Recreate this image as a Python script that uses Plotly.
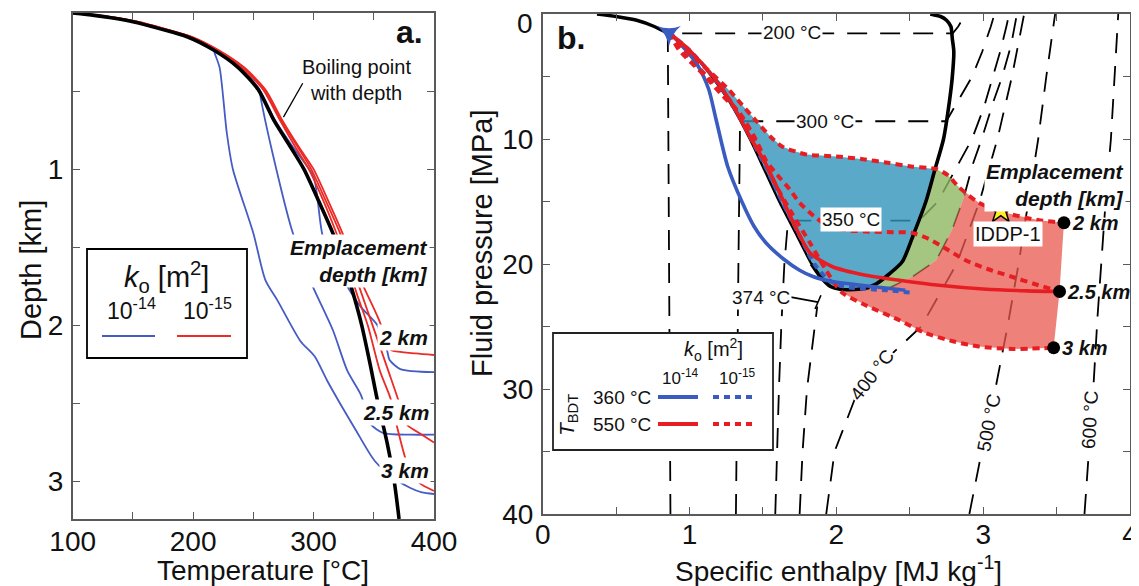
import numpy as np
import plotly.graph_objects as go

# page is rendered with an 8 px body margin; the figure is placed so that
# pixel positions match the 1139 x 586 window
OFF = 8
W, H = 1139 - OFF, 586 - OFF
FONT = "Liberation Sans, Arial, Helvetica, sans-serif"

# ================= Panel a data (Temperature [°C] vs depth [km]) =================
bp_depth = [0, 0.015, 0.03, 0.056, 0.1, 0.152, 0.237, 0.346, 0.49, 0.686, 0.86, 1.0, 1.2, 1.41, 1.6, 1.8, 2.0, 2.25, 2.48, 2.75, 3.0, 3.24]
bp_temp = [100, 118, 132, 150, 172, 195, 217, 237, 254, 267, 281, 292, 304, 316, 325, 333, 340, 347, 353, 361, 367, 371]

# k = 1e-14 (blue), emplacement 2, 2.5, 3 km
a_blue2_d = [0, 0.03, 0.056, 0.1, 0.152, 0.237, 0.346, 0.49, 0.686, 0.86, 1.05, 1.44, 1.75, 1.88, 2.0, 2.12, 2.16, 2.22, 2.28, 2.30]
a_blue2_T = [100, 132, 150, 172, 195, 217, 238, 255, 268, 283, 300, 308, 328, 339, 353, 358, 361, 363, 372, 400]
a_blue25_d = [0, 0.03, 0.056, 0.1, 0.152, 0.237, 0.346, 0.49, 0.54, 0.9, 1.39, 1.71, 2.03, 2.29, 2.44, 2.55, 2.63, 2.69, 2.70, 2.70]
a_blue25_T = [100, 132, 150, 172, 195, 217, 238, 255, 256, 266, 282, 297, 316, 328, 339, 344, 347, 358, 380, 400]
a_blue3_d = [0, 0.03, 0.056, 0.1, 0.152, 0.237, 0.26, 0.35, 0.77, 1.0, 1.41, 1.71, 1.84, 2.10, 2.2, 2.35, 2.5, 2.67, 2.87, 2.99, 3.04, 3.07, 3.08]
a_blue3_T = [100, 132, 150, 172, 195, 217, 218, 222, 228, 233, 250, 260, 270, 289, 301, 311, 322, 335, 351, 369, 380, 390, 400]
# k = 1e-15 (red)
a_red2_d = [0, 0.015, 0.03, 0.056, 0.1, 0.152, 0.237, 0.346, 0.49, 0.686, 0.86, 1.0, 1.2, 1.41, 1.6, 1.76, 2.0, 2.12, 2.16, 2.18, 2.19]
a_red2_T = [100, 121, 136, 154, 176, 199, 221, 242, 260, 274, 288, 300, 312, 324, 333, 342, 356, 358, 365, 385, 400]
a_red25_d = [0, 0.015, 0.03, 0.056, 0.1, 0.152, 0.237, 0.346, 0.49, 0.686, 0.86, 1.0, 1.2, 1.41, 1.6, 1.8, 2.0, 2.29, 2.47, 2.6, 2.64, 2.70, 2.75]
a_red25_T = [100, 121, 135, 153, 175, 198, 220, 241, 259, 273, 287, 298, 310, 322, 331, 340, 349, 362, 370, 375, 378, 390, 400]
a_red3_d = [0, 0.015, 0.03, 0.056, 0.1, 0.152, 0.237, 0.346, 0.49, 0.686, 0.86, 1.0, 1.2, 1.41, 1.6, 1.8, 2.0, 2.29, 2.47, 2.64, 2.87, 2.95, 3.01, 3.06]
a_red3_T = [100, 120, 135, 153, 175, 198, 220, 240, 258, 272, 285, 296, 308, 319, 328, 336, 345, 355, 364, 369, 377, 382, 388, 400]

a_xticks = [100, 150, 200, 250, 300, 350, 400]
a_xlabels = ["100", "", "200", "", "300", "", "400"]
a_yticks = [0, 0.5, 1, 1.5, 2, 2.5, 3]
a_ylabels = ["", "", "1", "", "2", "", "3"]

# ================= Panel b data (specific enthalpy [MJ/kg] vs fluid pressure [MPa]) =================
sat_liq_h = [0.37, 0.50, 0.64, 0.76, 0.85, 0.91, 1.01, 1.15, 1.27, 1.41, 1.51, 1.61, 1.72, 1.83, 1.89, 1.96, 2.04]
sat_liq_P = [0.0, 0.2, 0.5, 1.0, 1.55, 2.0, 3.0, 5.0, 7.0, 10.0, 12.5, 15.0, 17.5, 20.0, 21.0, 21.8, 22.06]
sat_vap_h = [2.04, 2.17, 2.27, 2.36, 2.45, 2.53, 2.61, 2.67, 2.73, 2.77, 2.79, 2.80, 2.79, 2.78, 2.75, 2.71, 2.675, 2.64]
sat_vap_P = [22.06, 22.0, 21.6, 20.8, 19.8, 17.5, 15.0, 12.5, 10.0, 7.0, 5.0, 3.0, 2.0, 1.0, 0.5, 0.2, 0.1, 0.0]

# isotherms (liquid branch, two-phase, vapour branch)
iso200_h = [0.870, 0.866, 0.862, 0.858, 0.855, 0.852, 2.793, 2.83, 2.855, 2.875, 2.88]
iso200_P = [40, 30, 20, 10, 5, 1.55, 1.55, 1.0, 0.5, 0.1, 0.0]
iso300_h = [1.316, 1.322, 1.327, 1.333, 1.338, 1.343, 1.344, 2.749, 2.925, 2.994, 3.024, 3.052, 3.077]
iso300_P = [40, 30, 25, 20, 15, 10, 8.58, 8.58, 5, 3, 2, 1, 0]
iso350_h = [1.584, 1.595, 1.609, 1.625, 1.646, 1.671, 2.564, 2.692, 2.81, 2.924, 3.004, 3.069, 3.116, 3.158, 3.177]
iso350_P = [40, 35, 30, 25, 20, 16.53, 16.53, 15, 12.5, 10, 7.5, 5, 3, 1, 0]
iso374_liq_h = [1.75, 1.77, 1.80, 1.84, 1.87]
iso374_liq_P = [40, 35, 30, 26, 23.4]
iso374_vap_h = [2.09, 2.2, 2.36, 2.52, 2.68, 2.79, 2.87, 2.93, 2.99, 3.07, 3.13, 3.19, 3.23]
iso374_vap_P = [22.06, 22.03, 21.9, 21.0, 19.7, 17.2, 14.6, 12.0, 10.0, 7.0, 5.0, 2.5, 0.0]
iso400_h = [1.931, 1.988, 2.152, 2.35, 2.578, 2.819, 2.975, 3.097, 3.196, 3.279]
iso400_P = [40, 35, 30, 27.5, 25, 20, 15, 10, 5, 0]
iso500_h = [2.906, 2.99, 3.083, 3.166, 3.241, 3.31, 3.375, 3.43, 3.479, 3.49]
iso500_P = [40, 35, 30, 25, 20, 15, 10, 5, 1, 0]
iso600_h = [3.69, 3.72, 3.75, 3.78, 3.81, 3.84, 3.87, 3.90, 3.92]
iso600_P = [40, 35, 30, 24, 19, 14, 10, 4, 0]

# model trajectories
b_blue_solid_h = [0.86, 0.93, 1.05, 1.13, 1.18, 1.26, 1.36, 1.44, 1.52, 1.64, 1.75, 1.84, 1.97, 2.17, 2.32, 2.47]
b_blue_solid_P = [1.5, 2.3, 4.0, 6.0, 8.4, 12.2, 15.1, 17.0, 18.3, 19.6, 20.5, 21.0, 21.4, 21.7, 21.9, 22.1]
b_blue_dot_h = [0.86, 1.0, 1.16, 1.28, 1.42, 1.53, 1.63, 1.74, 1.85, 1.95, 2.05, 2.2, 2.35, 2.51]
b_blue_dot_P = [1.5, 2.9, 5.0, 7.0, 10.0, 12.5, 15.0, 17.5, 20.0, 21.3, 21.8, 22.0, 22.1, 22.3]
b_red_solid_h = [0.86, 1.0, 1.16, 1.28, 1.42, 1.52, 1.61, 1.72, 1.82, 1.97, 2.2, 2.43, 2.7, 3.0, 3.3, 3.52]
b_red_solid_P = [1.5, 2.9, 5.0, 7.0, 10.0, 12.0, 14.2, 17.0, 19.1, 20.2, 20.9, 21.3, 21.7, 22.0, 22.15, 22.2]
b_red_dot2_h = [0.86, 0.95, 1.1, 1.27, 1.36, 1.45, 1.55, 1.63, 1.72, 1.8, 2.0, 2.17, 2.35, 2.51, 2.68, 2.76, 2.83, 2.97, 3.15, 3.38, 3.55]
b_red_dot2_P = [1.5, 2.6, 4.2, 6.1, 7.3, 8.5, 9.8, 10.6, 11.0, 11.25, 11.4, 11.6, 11.9, 12.2, 12.4, 12.9, 13.8, 15.1, 15.9, 16.5, 16.7]
b_red_dot25_h = [0.86, 0.93, 1.1, 1.23, 1.34, 1.45, 1.52, 1.6, 1.68, 1.75, 1.85, 1.95, 2.07, 2.2, 2.35, 2.51, 2.63, 2.75, 2.88, 3.03, 3.19, 3.35, 3.52]
b_red_dot25_P = [1.5, 2.9, 4.9, 6.6, 7.9, 10.0, 11.7, 12.9, 14.0, 15.1, 16.2, 17.0, 17.3, 17.4, 17.45, 17.5, 18.0, 18.8, 19.7, 20.4, 21.0, 21.6, 22.2]
b_red_dot3_h = [0.86, 0.93, 1.08, 1.2, 1.34, 1.45, 1.57, 1.7, 1.82, 1.93, 2.04, 2.2, 2.43, 2.6, 2.8, 2.97, 3.2, 3.48]
b_red_dot3_P = [1.5, 2.6, 4.5, 6.0, 8.0, 10.2, 13.3, 16.0, 18.3, 20.5, 22.3, 23.3, 24.5, 25.5, 26.2, 26.6, 26.8, 26.7]

start_h, start_P = [0.86], [1.5]
iddp_h, iddp_P = [3.12], [15.7]
emplacement_labels = ["2 km", "2.5 km", "3 km"]

b_xticks = [0, 0.5, 1, 1.5, 2, 2.5, 3, 3.5, 4]
b_xlabels = ["0", "", "1", "", "2", "", "3", "", "4"]
b_yticks = [0, 5, 10, 15, 20, 25, 30, 35, 40]
b_ylabels = ["", "", "10", "", "20", "", "30", "", "40"]
b_top_label = "0"   # label of the 0 MPa tick, set slightly below the frame as in the original

iso_label_text = ["200 °C", "300 °C", "350 °C", "374 °C", "400 °C", "500 °C", "600 °C"]
iso_label_h = [1.70, 1.92, 2.10, 1.49, 2.24, 3.04, 3.725]
iso_label_P = [1.45, 8.58, 16.45, 22.7, 28.9, 32.7, 32.5]
iso_label_angle = [0, 0, 0, 0, -52, -79, -87]

# ================= colours =================
BLUE_A = "rgb(70,92,196)"
RED_A = "rgb(236,42,38)"
BLUE_B = "rgb(58,92,192)"
RED_B = "rgb(230,30,36)"
FILL_BLUE = "rgba(50,148,188,0.8)"
FILL_GREEN = "rgba(143,184,96,0.8)"
FILL_PINK = "rgba(232,88,78,0.75)"
AXC = "#5a5a5a"

fig = go.Figure()


def line_a(T, d, color, width):
    fig.add_trace(go.Scatter(x=T, y=d, mode="lines",
                             line=dict(color=color, width=width, shape="spline", smoothing=0.7),
                             xaxis="x", yaxis="y", showlegend=False, hoverinfo="skip"))


def line_b(h, P, color, width, dash="solid", smooth=True):
    ln = dict(color=color, width=width, dash=dash)
    if smooth:
        ln.update(shape="spline", smoothing=0.7)
    fig.add_trace(go.Scatter(x=h, y=P, mode="lines", line=ln,
                             xaxis="x2", yaxis="y2", showlegend=False, hoverinfo="skip"))


def fill_b(h, P, color):
    fig.add_trace(go.Scatter(x=h, y=P, mode="lines", fill="toself", fillcolor=color,
                             line=dict(width=0, color=color), xaxis="x2", yaxis="y2",
                             showlegend=False, hoverinfo="skip"))


# ---------- panel a traces ----------
for d, T in [(a_blue2_d, a_blue2_T), (a_blue25_d, a_blue25_T), (a_blue3_d, a_blue3_T)]:
    line_a(T, d, BLUE_A, 1.8)
for d, T in [(a_red2_d, a_red2_T), (a_red25_d, a_red25_T), (a_red3_d, a_red3_T)]:
    line_a(T, d, RED_A, 1.8)
line_a(bp_temp, bp_depth, "black", 3.6)

# ---------- panel b : isotherms ----------
ISO_DASH = "20px,13px"
for h, P in [(iso200_h, iso200_P), (iso300_h, iso300_P), (iso350_h, iso350_P),
             (iso374_liq_h, iso374_liq_P), (iso374_vap_h, iso374_vap_P),
             (iso400_h, iso400_P), (iso500_h, iso500_P), (iso600_h, iso600_P)]:
    line_b(h, P, "black", 1.8, ISO_DASH, smooth=False)

# ---------- panel b : filled regions built from the curves ----------
th, tP = np.array(b_red_dot2_h), np.array(b_red_dot2_P)
lh, lP = np.array(sat_liq_h), np.array(sat_liq_P)
vh, vP = np.array(sat_vap_h), np.array(sat_vap_P)
ch, cP = np.array(iso374_vap_h), np.array(iso374_vap_P)
bh, bP = np.array(b_red_dot3_h), np.array(b_red_dot3_P)


def P_top(h):
    return np.interp(h, th, tP)


Pg = np.linspace(8.0, 22.0, 4000)
hvg = np.interp(Pg, vP[::-1], vh[::-1])
f = P_top(hvg) - Pg
i = np.where(np.diff(np.sign(f)) != 0)[0][0]
P_iv, h_iv = Pg[i], hvg[i]

hg = np.linspace(2.7, 3.2, 4000)
f2 = P_top(hg) - np.interp(hg, ch, cP)
j = np.where(np.diff(np.sign(f2)) != 0)[0][0]
h_ic, P_ic = hg[j], P_top(hg[j])

# blue: inside dome below the upper trajectory
m = th < h_iv
vasc_h, vasc_P = vh[::-1], vP[::-1]
mv = vasc_P > P_iv
ml = lP[::-1] >= 1.5
blue_poly_h = np.concatenate([th[m], [h_iv], vasc_h[mv], lh[::-1][ml]])
blue_poly_P = np.concatenate([tP[m], [P_iv], vasc_P[mv], lP[::-1][ml]])
fill_b(blue_poly_h, blue_poly_P, FILL_BLUE)

# green: between saturated vapour and 374 °C isotherm
m = (th > h_iv) & (th < h_ic)
mc = cP > P_ic
mv2 = vP > P_iv
green_h = np.concatenate([[h_iv], th[m], [h_ic], ch[mc][::-1], vh[mv2]])
green_P = np.concatenate([[P_iv], tP[m], [P_ic], cP[mc][::-1], vP[mv2]])
fill_b(green_h, green_P, FILL_GREEN)

# pink: supercritical region bounded by the trajectories
m = th > h_ic
mb = bh >= 2.04
pink_h = np.concatenate([[h_ic], th[m], [b_red_dot25_h[-1]], bh[mb][::-1], ch[mc]])
pink_P = np.concatenate([[P_ic], tP[m], [b_red_dot25_P[-1]], bP[mb][::-1], cP[mc]])
fill_b(pink_h, pink_P, FILL_PINK)

# ---------- panel b : saturation dome ----------
line_b(sat_liq_h[:5], sat_liq_P[:5], "black", 3.4)
line_b(sat_liq_h[4:], sat_liq_P[4:], "black", 2.2)
line_b(sat_liq_h[-4:] + sat_vap_h, sat_liq_P[-4:] + sat_vap_P, "black", 3.6)

# ---------- panel b : trajectories ----------
RDOT = "7px,5px"
line_b(b_red_dot3_h, b_red_dot3_P, RED_B, 4, RDOT)
line_b(b_blue_dot_h, b_blue_dot_P, BLUE_B, 4, "6px,5px")
line_b(b_blue_solid_h, b_blue_solid_P, BLUE_B, 3.6)
line_b(b_red_solid_h, b_red_solid_P, RED_B, 3.6)
line_b(b_red_dot25_h, b_red_dot25_P, RED_B, 4, RDOT)
line_b(b_red_dot2_h, b_red_dot2_P, RED_B, 4, RDOT)

# emplacement end points
end_h = [b_red_dot2_h[-1], b_red_dot25_h[-1], b_red_dot3_h[-1]]
end_P = [b_red_dot2_P[-1], b_red_dot25_P[-1], b_red_dot3_P[-1]]
fig.add_trace(go.Scatter(x=end_h, y=end_P, mode="markers", marker=dict(color="black", size=13),
                         xaxis="x2", yaxis="y2", showlegend=False, hoverinfo="skip"))
fig.add_trace(go.Scatter(x=start_h, y=start_P, mode="markers",
                         marker=dict(symbol="star-triangle-down", color=BLUE_B, size=17),
                         xaxis="x2", yaxis="y2", showlegend=False, hoverinfo="skip"))
fig.add_trace(go.Scatter(x=iddp_h, y=iddp_P, mode="markers",
                         marker=dict(symbol="star", color="#ffee22", size=20, line=dict(color="black", width=1.5)),
                         xaxis="x2", yaxis="y2", showlegend=False, hoverinfo="skip"))


def px2x(px):
    return (px - OFF) / W


def py2y(py):
    return 1 - (py - OFF) / H


ann = []
shapes = []


def A(text, x, y, size, xref="paper", yref="paper", xanchor="center", yanchor="middle",
      angle=0, bg=None, align="center", color="#111", yshift=0):
    d = dict(text=text, x=x, y=y, xref=xref, yref=yref, xanchor=xanchor, yanchor=yanchor,
             showarrow=False, textangle=angle, align=align, yshift=yshift,
             font=dict(family=FONT, size=size, color=color))
    if bg:
        d["bgcolor"] = bg
        d["borderpad"] = 1
    ann.append(d)


# ---------- panel a annotations ----------
A("<b>a.</b>", 380, 0.12, 32, "x", "y")
A("Boiling point<br>with depth", 336, 0.43, 20, "x", "y")
shapes.append(dict(type="line", xref="x", yref="y", x0=291, y0=0.45, x1=275, y1=0.667,
                   line=dict(color="black", width=1.3)))
A("<b><i>Emplacement<br>depth [km]</i></b>", 396.5, 1.59, 21, "x", "y", xanchor="right", align="right", bg="white")
A("<b><i>2 km</i></b>", 396.5, 2.08, 21, "x", "y", xanchor="right", bg="white")
A("<b><i>2.5 km</i></b>", 397.5, 2.56, 21, "x", "y", xanchor="right", bg="white")
A("<b><i>3 km</i></b>", 397.5, 2.93, 21, "x", "y", xanchor="right", bg="white")

# panel a legend
shapes.append(dict(type="rect", xref="paper", yref="paper", x0=px2x(87), y0=py2y(358), x1=px2x(247), y1=py2y(249),
                   line=dict(color="black", width=1.8), fillcolor="white", layer="above"))
shapes.append(dict(type="line", xref="paper", yref="paper", x0=px2x(102), y0=py2y(336), x1=px2x(155), y1=py2y(336),
                   line=dict(color=BLUE_A, width=2.2), layer="above"))
shapes.append(dict(type="line", xref="paper", yref="paper", x0=px2x(177), y0=py2y(336), x1=px2x(231), y1=py2y(336),
                   line=dict(color=RED_A, width=2.2), layer="above"))
A("<i>k</i><sub>o</sub> [m<sup>2</sup>]", px2x(166), py2y(277), 29)
A("10<sup>-14</sup>", px2x(131), py2y(309), 23)
A("10<sup>-15</sup>", px2x(207), py2y(309), 23)

# ---------- panel b annotations ----------
A("<b>b.</b>", 0.19, 1.9, 32, "x2", "y2")
A(b_top_label, px2x(535), 0, 28, yref="y2", xanchor="right", yshift=-9)
for t, hx, py, ang in zip(iso_label_text, iso_label_h, iso_label_P, iso_label_angle):
    A(t, hx, py, 19, "x2", "y2", angle=ang, bg="white")
shapes.append(dict(type="line", xref="x2", yref="y2", x0=1.69, y0=22.65, x1=1.875, y1=23.05,
                   line=dict(color="black", width=1.6)))
shapes.append(dict(type="line", xref="x2", yref="y2", x0=1.855, y0=23.6, x1=1.895, y1=22.5,
                   line=dict(color="black", width=1.6)))
A("<b><i>Emplacement<br>depth [km]</i></b>", 3.975, 13.7, 21, "x2", "y2", xanchor="right", align="right", bg="white")
A("IDDP-1", 3.17, 17.6, 20, "x2", "y2", bg="white")
for t, hx, py in zip(emplacement_labels, end_h, end_P):
    A("<b><i>" + t + "</i></b>", hx + 0.04, py, 20, "x2", "y2", xanchor="left")

# panel b legend
shapes.append(dict(type="rect", xref="paper", yref="paper", x0=px2x(553), y0=py2y(450), x1=px2x(773), y1=py2y(333),
                   line=dict(color="#222", width=1.8), fillcolor="white", layer="above"))
for yy, col in [(397, BLUE_B), (424, RED_B)]:
    shapes.append(dict(type="line", xref="paper", yref="paper", x0=px2x(658), y0=py2y(yy), x1=px2x(698), y1=py2y(yy),
                       line=dict(color=col, width=4), layer="above"))
    shapes.append(dict(type="line", xref="paper", yref="paper", x0=px2x(713), y0=py2y(yy), x1=px2x(755), y1=py2y(yy),
                       line=dict(color=col, width=4, dash="6px,5px"), layer="above"))
A("<i>k</i><sub>o</sub> [m<sup>2</sup>]", px2x(713), py2y(349), 20)
A("10<sup>-14</sup>", px2x(680), py2y(377), 17)
A("10<sup>-15</sup>", px2x(737), py2y(377), 17)
A("360 °C", px2x(653), py2y(397), 19, xanchor="right")
A("550 °C", px2x(653), py2y(424), 19, xanchor="right")
A("<i>T</i><sub>BDT</sub>", px2x(568), py2y(415), 21, angle=-90)

# axis titles
A("Depth [km]", px2x(31), py2y(270), 29, angle=-90)
A("Temperature [°C]", px2x(263), py2y(570), 28)
A("Fluid pressure [MPa]", px2x(482), py2y(243), 29, angle=-90)
A("Specific enthalpy [MJ kg<sup>-1</sup>]", px2x(838), py2y(569), 28)

axis_common = dict(showgrid=False, zeroline=False, showline=True, linecolor=AXC, linewidth=1.6,
                   mirror="allticks", ticks="inside", ticklen=7, tickwidth=1.3, tickcolor=AXC,
                   tickfont=dict(family=FONT, size=28, color="#111"), tickmode="array",
                   automargin=False, ticklabeloverflow="allow")

fig.update_layout(
    width=W, height=H, margin=dict(l=0, r=0, t=0, b=0, autoexpand=False),
    paper_bgcolor="white", plot_bgcolor="white", showlegend=False,
    xaxis=dict(domain=[px2x(72.7), px2x(434)], range=[100, 400], anchor="y",
               tickvals=a_xticks, ticktext=a_xlabels, ticklabelstandoff=-3, **axis_common),
    yaxis=dict(domain=[py2y(519), py2y(13)], range=[3.24, 0], anchor="x",
               tickvals=a_yticks, ticktext=a_ylabels, ticklabelstandoff=2, **axis_common),
    xaxis2=dict(domain=[px2x(542.7), px2x(1130)], range=[0, 4], anchor="y2",
                tickvals=b_xticks, ticktext=b_xlabels, ticklabelstandoff=-5, **axis_common),
    yaxis2=dict(domain=[py2y(514), py2y(14)], range=[40, 0], anchor="x2",
                tickvals=b_yticks, ticktext=b_ylabels, ticklabelstandoff=2, **axis_common),
    annotations=ann, shapes=shapes,
)

fig.write_html("out.html")
